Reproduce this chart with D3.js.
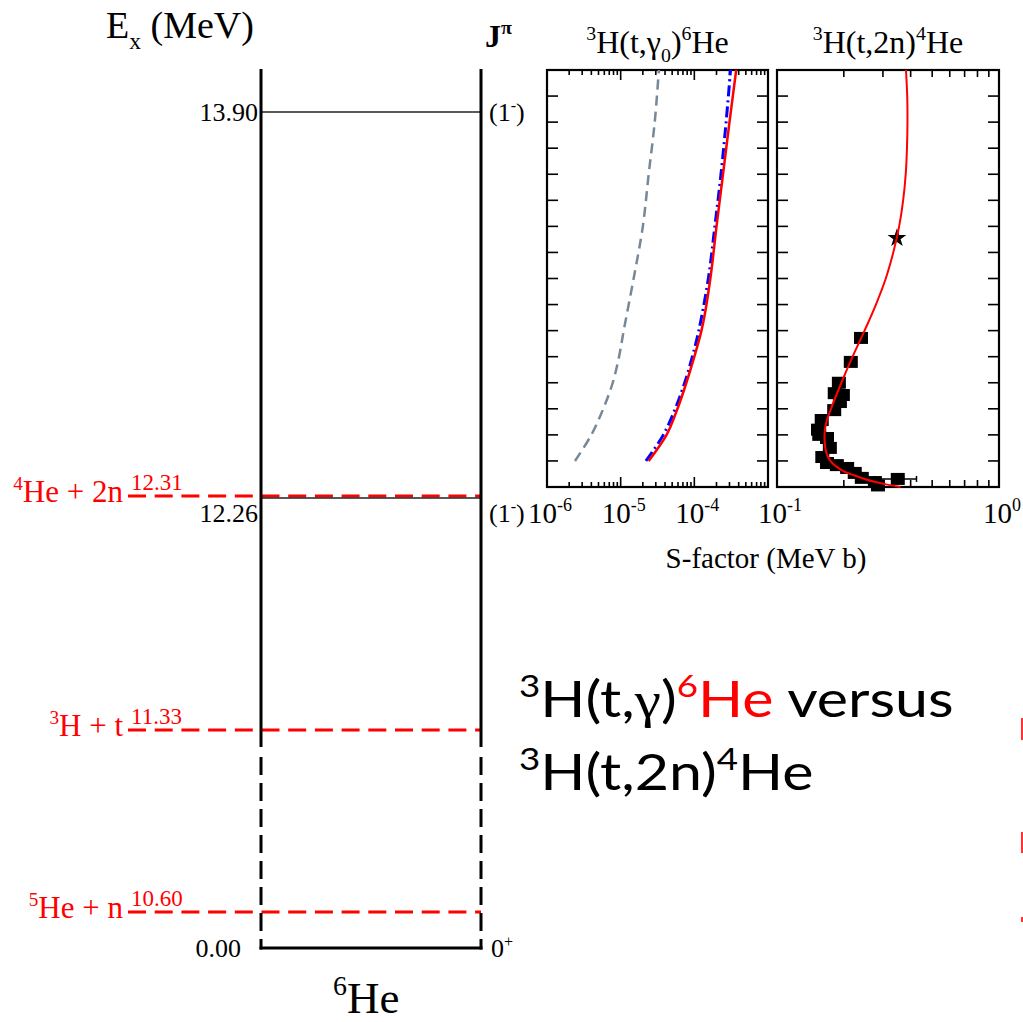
<!DOCTYPE html>
<html lang="en">
<head>
<meta charset="utf-8">
<title>6He levels and S-factors</title>
<script src="https://cdn.jsdelivr.net/npm/d3@7"></script>
<style>
  body { margin: 0; background: #fff; }
  svg { display: block; }
</style>
</head>
<body>
<script>
// ---- level scheme of 6He (MeV) ----
var levelE = [13.90, 12.26, 0.00];
var levelJ = ["(1", "(1", "0"];
var levelP = ["-", "-", "+"];

var thrE = [12.31, 11.33, 10.60];
var thrA = ["4", "3", "5"];
var thrName = ["He + 2n", "H + t", "He + n"];

// ---- 3H(t,g0)6He : Ecm (MeV) vs S (MeV b) ----
var gamE = [0.1, 0.2, 0.3, 0.4, 0.5, 0.6, 0.8, 1.0, 1.2, 1.4, 1.6];
var gamRed = [2.4e-5, 4.2e-5, 5.9e-5, 7.8e-5, 1.0e-4, 1.25e-4, 1.65e-4, 2.0e-4, 2.45e-4, 3.0e-4, 3.7e-4];
var gamBlue = [2.2e-5, 3.8e-5, 5.5e-5, 7.4e-5, 9.4e-5, 1.15e-4, 1.55e-4, 1.9e-4, 2.3e-4, 2.7e-4, 3.1e-4];
var gamGray = [2.4e-6, 4.0e-6, 5.8e-6, 7.8e-6, 9.5e-6, 1.1e-5, 1.5e-5, 2.0e-5, 2.4e-5, 2.9e-5, 3.3e-5];

// ---- 3H(t,2n)4He ----
var nnFitE = [0.0, 0.01, 0.02, 0.03, 0.045, 0.06, 0.08, 0.1, 0.13, 0.17, 0.21, 0.25, 0.3, 0.4, 0.5, 0.6, 0.7, 0.8, 0.9, 1.0, 1.1, 1.2, 1.3, 1.4, 1.5, 1.6];
var nnFitS = [0.36, 0.31, 0.275, 0.25, 0.222, 0.2, 0.184, 0.174, 0.167, 0.164, 0.164, 0.167, 0.175, 0.195, 0.219, 0.248, 0.279, 0.309, 0.334, 0.355, 0.370, 0.380, 0.385, 0.387, 0.386, 0.381];

var nnE  = [0.572, 0.48, 0.40, 0.36, 0.353, 0.326, 0.295, 0.257, 0.22, 0.20, 0.188, 0.15, 0.115, 0.092, 0.084, 0.073, 0.054, 0.035, 0.019, 0.031, 0.006];
var nnS  = [0.239, 0.215, 0.190, 0.182, 0.198, 0.192, 0.181, 0.159, 0.153, 0.155, 0.168, 0.173, 0.160, 0.168, 0.186, 0.207, 0.224, 0.241, 0.276, 0.350, 0.285];
var nndS = [0.010, 0.006, 0.008, 0.006, 0.006, 0.006, 0.006, 0.006, 0.005, 0.005, 0.005, 0.005, 0.006, 0.010, 0.006, 0.008, 0.008, 0.010, 0.012, 0.075, 0.010];
var nndE = [0.008, 0.022, 0.012, 0.01, 0.01, 0.01, 0.01, 0.012, 0.012, 0.01, 0.01, 0.012, 0.01, 0.006, 0.006, 0.006, 0.006, 0.006, 0.006, 0.008, 0.004];
var starE = [0.955], starS = [0.347], stardS = [0.01];

var xLabels1 = [-6, -5, -4];
var xLabels2 = [-1, 0];

var W = 1023, H = 1022;
var serif = "'Liberation Serif', 'Times New Roman', serif";
var red = "#ff0000";

var svg = d3.select("body").append("svg")
  .attr("width", W).attr("height", H)
  .attr("font-family", serif);

// text with super/subscripts, parts = [[text, "sup"|"sub"|null, family?]]
function rich(parent, parts, size) {
  var t = parent.append("text").attr("font-size", size);
  var shift = 0;
  parts.forEach(function(p) {
    var target = p[1] === "sup" ? -0.4 * size : p[1] === "sub" ? 0.28 * size : 0;
    var s = t.append("tspan")
      .attr("dy", target - shift)
      .attr("font-size", p[1] ? size * 0.62 : size)
      .text(p[0]);
    if (p[2]) s.attr("font-family", p[2]);
    shift = target;
  });
  return t;
}

// ================= level diagram =================
var yL = d3.scaleLinear()
  .domain(d3.sort(levelE.concat(thrE)))
  .range([948, 912, 730, 498, 496, 112]);
var xLeft = 261, xRight = 481, xThr = 128;

var lev = svg.append("g");

// thresholds (red dashed)
thrE.forEach(function(e, i) {
  var y = yL(e);
  lev.append("line")
    .attr("x1", xThr).attr("x2", xRight).attr("y1", y).attr("y2", y)
    .attr("stroke", red).attr("stroke-width", 3).attr("stroke-dasharray", "18,8.7");
  rich(lev, [[thrA[i], "sup"], [thrName[i], null]], 31)
    .attr("x", xThr - 5).attr("y", y + 6).attr("text-anchor", "end").attr("fill", red);
  lev.append("text").attr("x", xThr + 3).attr("y", y - 6)
    .attr("font-size", 23).attr("fill", red).text(e.toFixed(2));
});

// levels
levelE.forEach(function(e, i) {
  var y = yL(e);
  var crowded = thrE.some(function(t) { return Math.abs(t - e) < 0.1; });
  var dy = crowded ? 24 : 9;
  if (e > 0) {
    lev.append("line")
      .attr("x1", xLeft).attr("x2", xRight).attr("y1", y).attr("y2", y)
      .attr("stroke", "#222").attr("stroke-width", 1.5);
  } else {
    lev.append("line")
      .attr("x1", xLeft - 1.5).attr("x2", xRight + 1.5).attr("y1", y).attr("y2", y)
      .attr("stroke", "#000").attr("stroke-width", 3);
  }
  lev.append("text")
    .attr("x", e > 0 ? 258 : 241).attr("y", y + dy)
    .attr("text-anchor", "end").attr("font-size", 26)
    .text(e.toFixed(2));
  var parts = [[levelJ[i], null], [levelP[i], "sup"]];
  if (levelJ[i].charAt(0) === "(") parts.push([")", null]);
  rich(lev, parts, 26).attr("x", e > 0 ? 489 : 491).attr("y", y + dy);
});

// vertical frame of the scheme
[xLeft, xRight].forEach(function(x) {
  lev.append("line").attr("x1", x).attr("x2", x).attr("y1", 69).attr("y2", 747)
    .attr("stroke", "#000").attr("stroke-width", 3);
  lev.append("line").attr("x1", x).attr("x2", x).attr("y1", 757).attr("y2", 949.5)
    .attr("stroke", "#000").attr("stroke-width", 3).attr("stroke-dasharray", "18,8");
});

// headers
rich(svg, [["E", null], ["x", "sub"], [" (MeV)", null]], 38).attr("x", 106).attr("y", 38);
rich(svg, [["J", null], ["\u03c0", "sup"]], 32).attr("x", 485).attr("y", 47).attr("font-weight", "bold");
rich(svg, [["6", "sup"], ["He", null]], 45).attr("x", 333).attr("y", 1013);

// ================= S-factor panels =================
var pTop = 70, pBottom = 487;
var yP = d3.scaleLinear().domain([0, 1.6]).range([pBottom, pTop]);
var x1 = d3.scaleLog().domain([1e-6, 1e-3]).range([547, 768]);
var x2 = d3.scaleLog().domain([0.1, 1]).range([777, 999]);

function panel(xs, minorLen, majorLen, title) {
  var g = svg.append("g");
  var r = xs.range();
  g.append("rect").attr("x", r[0]).attr("y", pTop)
    .attr("width", r[1] - r[0]).attr("height", pBottom - pTop)
    .attr("fill", "none").attr("stroke", "#000").attr("stroke-width", 2.2);
  xs.ticks().forEach(function(v) {
    var major = Math.abs(Math.log10(v) - Math.round(Math.log10(v))) < 1e-9;
    var len = major ? majorLen : minorLen;
    var x = xs(v);
    if (x <= r[0] + 1 || x >= r[1] - 1) return;
    g.append("line").attr("x1", x).attr("x2", x).attr("y1", pBottom).attr("y2", pBottom - len)
      .attr("stroke", "#000").attr("stroke-width", 1.6);
    g.append("line").attr("x1", x).attr("x2", x).attr("y1", pTop).attr("y2", pTop + len)
      .attr("stroke", "#000").attr("stroke-width", 1.6);
  });
  yP.ticks(16).forEach(function(v) {
    var y = yP(v);
    if (y >= pBottom - 1 || y <= pTop + 1) return;
    g.append("line").attr("x1", r[0]).attr("x2", r[0] + 11).attr("y1", y).attr("y2", y)
      .attr("stroke", "#000").attr("stroke-width", 1.6);
    g.append("line").attr("x1", r[1]).attr("x2", r[1] - 11).attr("y1", y).attr("y2", y)
      .attr("stroke", "#000").attr("stroke-width", 1.6);
  });
  rich(g, title, 32).attr("x", (r[0] + r[1]) / 2).attr("y", 53).attr("text-anchor", "middle");
  return g;
}

var p1 = panel(x1, 5, 10, [["3", "sup"], ["H(t,\u03b3", null], ["0", "sub"], [")", null], ["6", "sup"], ["He", null]]);
var p2 = panel(x2, 7, 10, [["3", "sup"], ["H(t,2n)", null], ["4", "sup"], ["He", null]]);

// curves, panel 1
function curve(xs, E, S, k) {
  return d3.line().curve(k || d3.curveCatmullRom)
    .x(function(d, i) { return xs(S[i]); })
    .y(function(d, i) { return yP(E[i]); })(E);
}
p1.append("path").attr("d", curve(x1, gamE, gamGray))
  .attr("fill", "none").attr("stroke", "#778899").attr("stroke-width", 2.5)
  .attr("stroke-dasharray", "10,6");
p1.append("path").attr("d", curve(x1, gamE, gamBlue))
  .attr("fill", "none").attr("stroke", "#0000ff").attr("stroke-width", 3)
  .attr("stroke-dasharray", "11,4,2,4");
p1.append("path").attr("d", curve(x1, gamE, gamRed, d3.curveMonotoneY))
  .attr("fill", "none").attr("stroke", red).attr("stroke-width", 2.5);

// data, panel 2
var pts = p2.append("g");
nnE.forEach(function(e, i) {
  var cx = x2(nnS[i]), cy = yP(e);
  var xa = x2(nnS[i] - nndS[i]), xb = x2(nnS[i] + nndS[i]);
  pts.append("line").attr("x1", xa).attr("x2", xb).attr("y1", cy).attr("y2", cy)
    .attr("stroke", "#000").attr("stroke-width", 1.5);
  [xa, xb].forEach(function(xx) {
    pts.append("line").attr("x1", xx).attr("x2", xx).attr("y1", cy - 3).attr("y2", cy + 3)
      .attr("stroke", "#000").attr("stroke-width", 1.5);
  });
  var h = Math.max(12, yP(e - nndE[i]) - yP(e + nndE[i]));
  pts.append("rect").attr("x", cx - 7).attr("y", cy - h / 2)
    .attr("width", 14).attr("height", h).attr("fill", "#000");
});
starE.forEach(function(e, i) {
  var cx = x2(starS[i]), cy = yP(e);
  pts.append("line").attr("x1", x2(starS[i] - stardS[i])).attr("x2", x2(starS[i] + stardS[i]))
    .attr("y1", cy).attr("y2", cy).attr("stroke", "#000").attr("stroke-width", 2);
  pts.append("path").attr("d", d3.symbol(d3.symbolStar, 110)())
    .attr("transform", "translate(" + cx + "," + cy + ")").attr("fill", "#000");
});
p2.append("path").attr("d", curve(x2, nnFitE, nnFitS))
  .attr("fill", "none").attr("stroke", red).attr("stroke-width", 2);

// x tick labels
function expLabel(xs, p) {
  rich(svg, [["10", null], [String(p), "sup"]], 29)
    .attr("x", xs(Math.pow(10, p)) + 3).attr("y", 523).attr("text-anchor", "middle");
}
xLabels1.forEach(function(p) { expLabel(x1, p); });
xLabels2.forEach(function(p) { expLabel(x2, p); });

svg.append("text").attr("x", 766).attr("y", 568).attr("text-anchor", "middle")
  .attr("font-size", 29).text("S-factor (MeV b)");

// ================= slide text =================
var lato = "Lato, 'Open Sans', sans-serif";
var t1 = rich(svg, [["3", "sup"], ["H(t,", null], ["\u03b3", null, serif], [")", null], ["6", "sup"], ["He", null], [" versus", null]], 51)
  .attr("transform", "translate(519,717) scale(1.16,1)").attr("font-family", lato);
t1.selectAll("tspan").filter(function(d, i) { return i === 4 || i === 5; }).attr("fill", red);
rich(svg, [["3", "sup"], ["H(t,2n)", null], ["4", "sup"], ["He", null]], 51)
  .attr("transform", "translate(519,790) scale(1.16,1)").attr("font-family", lato);

// clipped red bits at right edge
[[718, 22], [832, 21], [917, 5]].forEach(function(b) {
  svg.append("rect").attr("x", 1021).attr("y", b[0]).attr("width", 2).attr("height", b[1])
    .attr("fill", red).attr("opacity", 0.8);
});
</script>
</body>
</html>
